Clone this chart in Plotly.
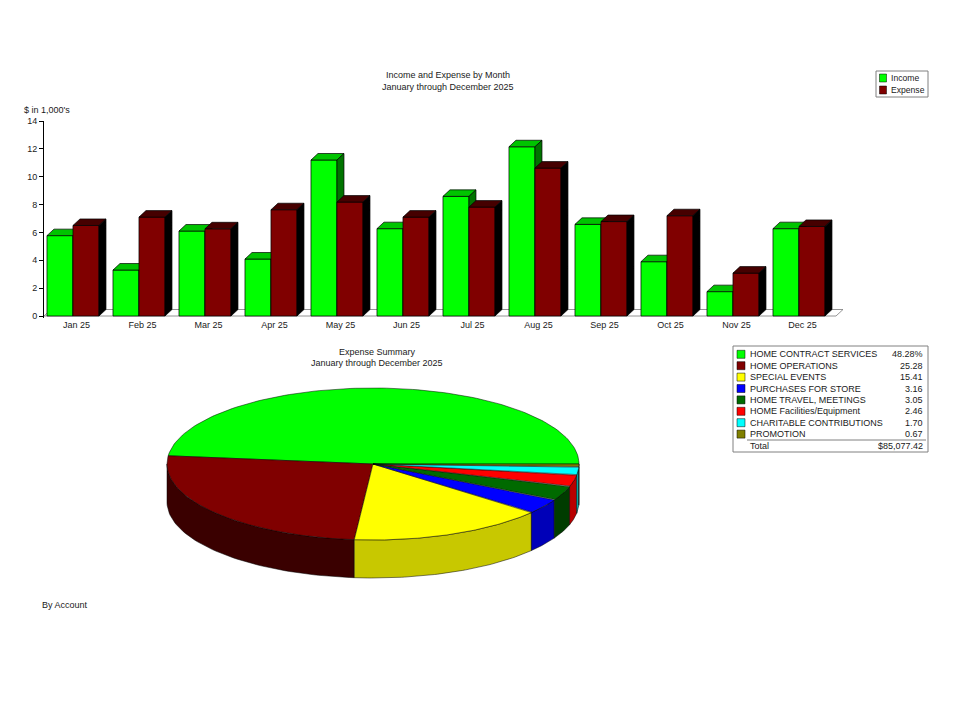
import numpy as np
import plotly.graph_objects as go

# ---------------- data ----------------
months = ["Jan 25", "Feb 25", "Mar 25", "Apr 25", "May 25", "Jun 25",
          "Jul 25", "Aug 25", "Sep 25", "Oct 25", "Nov 25", "Dec 25"]
income = [5.77, 3.30, 6.10, 4.09, 11.20, 6.27, 8.59, 12.15, 6.58, 3.90, 1.75, 6.27]
expense = [6.50, 7.10, 6.26, 7.63, 8.18, 7.10, 7.82, 10.62, 6.78, 7.20, 3.08, 6.43]
y_tick_values = [0, 2, 4, 6, 8, 10, 12, 14]

accounts = ["HOME CONTRACT SERVICES", "HOME OPERATIONS", "SPECIAL EVENTS",
            "PURCHASES FOR STORE", "HOME TRAVEL, MEETINGS", "HOME Facilities/Equipment",
            "CHARITABLE CONTRIBUTIONS", "PROMOTION"]
account_shares = [48.28, 25.28, 15.41, 3.16, 3.05, 2.46, 1.70, 0.67]
account_share_text = ["48.28%", "25.28", "15.41", "3.16", "3.05", "2.46", "1.70", "0.67"]
expense_total_text = "$85,077.42"

# ---------------- styles ----------------
INCOME_FRONT, INCOME_TOP, INCOME_SIDE = "#00FF00", "#00C400", "#007400"
EXP_FRONT, EXP_TOP, EXP_SIDE = "#800000", "#460000", "#000000"
slice_colors = ["#00FF00", "#800000", "#FFFF00", "#0000FF", "#006A00", "#FF0000", "#00FFFF", "#808000"]
side_colors = ["#00A000", "#3A0000", "#C8C800", "#0000B8", "#003C00", "#B80000", "#00B8B8", "#5A5A00"]
FONT = "Liberation Sans, Arial, sans-serif"
FS = 9
TXT = "#1a1a1a"

W, H = 960, 702
OFF = 8  # page body margin
def px(x): return (x - OFF) / W
def py(y): return 1 - (y - OFF) / H

BAR_W = 0.394
DX = 0.106
DY = 0.467
X_MIN = -0.439
X_FLOOR_END = len(months) - 1 + 0.561
X_MAX = X_MIN + (852 - 44) / 66.0

fig = go.Figure()

def add_poly(xs, ys, fill, line, width=0.8, xaxis="x", yaxis="y"):
    fig.add_trace(go.Scatter(x=xs, y=ys, mode="lines", fill="toself", fillcolor=fill,
                             line=dict(color=line, width=width), hoverinfo="skip",
                             showlegend=False, xaxis=xaxis, yaxis=yaxis))

# floor
add_poly([X_MIN, X_FLOOR_END, X_FLOOR_END + DX, X_MIN + DX, X_MIN],
         [0, 0, DY, DY, 0], "white", "#7a7a7a")

def bar_faces(x0s, hs):
    fx, fy, tx, ty, sx, sy = [], [], [], [], [], []
    for x0, h in zip(x0s, hs):
        x1 = x0 + BAR_W
        fx += [x0, x1, x1, x0, x0, None]; fy += [0, 0, h, h, 0, None]
        tx += [x0, x1, x1 + DX, x0 + DX, x0, None]; ty += [h, h, h + DY, h + DY, h, None]
        sx += [x1, x1 + DX, x1 + DX, x1, x1, None]; sy += [0, DY, h + DY, h, 0, None]
    return (fx, fy), (tx, ty), (sx, sy)

idx = np.arange(len(months))
for x0s, vals, cols in [(idx - BAR_W, income, (INCOME_FRONT, INCOME_TOP, INCOME_SIDE)),
                        (idx + 0.0, expense, (EXP_FRONT, EXP_TOP, EXP_SIDE))]:
    faces = bar_faces(list(x0s), vals)
    for (xs, ys), c in zip(faces, cols):
        add_poly(xs, ys, c, "#000000", width=0.7)

# ---------------- 3D pie ----------------
RX, RY, DEPTH = 206, 76, 38
edges = np.concatenate([[0.0], np.cumsum(account_shares)]) / sum(account_shares) * 2 * np.pi

for i in range(len(accounts)):
    a, b = max(edges[i], np.pi), min(edges[i + 1], 2 * np.pi)
    if b > a:
        t = np.linspace(a, b, 60)
        xs = list(RX * np.cos(t)) + list(RX * np.cos(t[::-1]))
        ys = list(RY * np.sin(t)) + list(RY * np.sin(t[::-1]) - DEPTH)
        xs.append(xs[0]); ys.append(ys[0])
        add_poly(xs, ys, side_colors[i], "#000000", width=0.5, xaxis="x2", yaxis="y2")

for i in range(len(accounts)):
    t = np.linspace(edges[i], edges[i + 1], 120)
    xs = [0] + list(RX * np.cos(t)) + [0]
    ys = [0] + list(RY * np.sin(t)) + [0]
    add_poly(xs, ys, slice_colors[i], "#000000", width=0.5, xaxis="x2", yaxis="y2")

# ---------------- annotations & manual legends ----------------
ann = []
shapes = []
def text(x, y, s, anchor="center", size=FS):
    ann.append(dict(x=px(x), y=py(y), xref="paper", yref="paper", text=s, showarrow=False,
                    xanchor=anchor, yanchor="middle", font=dict(family=FONT, size=size, color=TXT)))

text(448, 75, "Income and Expense by Month")
text(448, 87, "January through December 2025")
text(22, 110, "$ in 1,000's", anchor="left")
text(377, 352, "Expense Summary")
text(377, 363, "January through December 2025")
text(40, 605, "By Account", anchor="left")

def rect(x0, y0, x1, y1, fill="rgba(0,0,0,0)", line="#808080", w=1):
    shapes.append(dict(type="rect", xref="paper", yref="paper", x0=px(x0), x1=px(x1),
                       y0=py(y1), y1=py(y0), fillcolor=fill, line=dict(color=line, width=w)))

# bar legend
rect(876, 71, 928, 97)
for k, (name, col) in enumerate([("Income", INCOME_FRONT), ("Expense", EXP_FRONT)]):
    yc = 78 + 12 * k
    rect(879.5, yc - 4, 886.5, yc + 4, fill=col, line="#000000", w=0.5)
    text(889, yc, name, anchor="left", size=8.6)

# pie legend table
rect(733, 346, 928, 452)
for k, name in enumerate(accounts):
    yc = 354.3 + 11.4 * k
    rect(737, yc - 4, 745, yc + 4, fill=slice_colors[k], line="#000000", w=0.5)
    text(748, yc, name, anchor="left")
    text(925, yc, account_share_text[k], anchor="right")
shapes.append(dict(type="line", xref="paper", yref="paper", x0=px(747), x1=px(926),
                   y0=py(440), y1=py(440), line=dict(color="#808080", width=1)))
text(748, 446, "Total", anchor="left")
text(925, 446, expense_total_text, anchor="right")

fig.update_layout(
    width=W, height=H, margin=dict(l=0, r=0, t=0, b=0),
    paper_bgcolor="white", plot_bgcolor="rgba(0,0,0,0)",
    template="none", showlegend=False,
    font=dict(family=FONT, size=FS, color=TXT),
    xaxis=dict(domain=[px(44), px(852)], range=[X_MIN, X_MAX],
               tickvals=list(idx + DX / 2), ticktext=months, ticks="",
               showline=False, showgrid=False, zeroline=False,
               tickfont=dict(family=FONT, size=FS, color=TXT)),
    yaxis=dict(domain=[py(318.1), py(121)], range=[-0.15, 14], tickvals=y_tick_values,
               ticks="outside", ticklen=4, tickcolor="#000", showline=True,
               linecolor="#000", linewidth=1, showgrid=False, zeroline=False,
               tickfont=dict(family=FONT, size=FS, color=TXT)),
    xaxis2=dict(domain=[px(140), px(600)], range=[-233, 227], visible=False, anchor="y2"),
    yaxis2=dict(domain=[py(600), py(380)], range=[-136, 84], visible=False, anchor="x2"),
    annotations=ann, shapes=shapes,
)

fig.write_html("out.html")
